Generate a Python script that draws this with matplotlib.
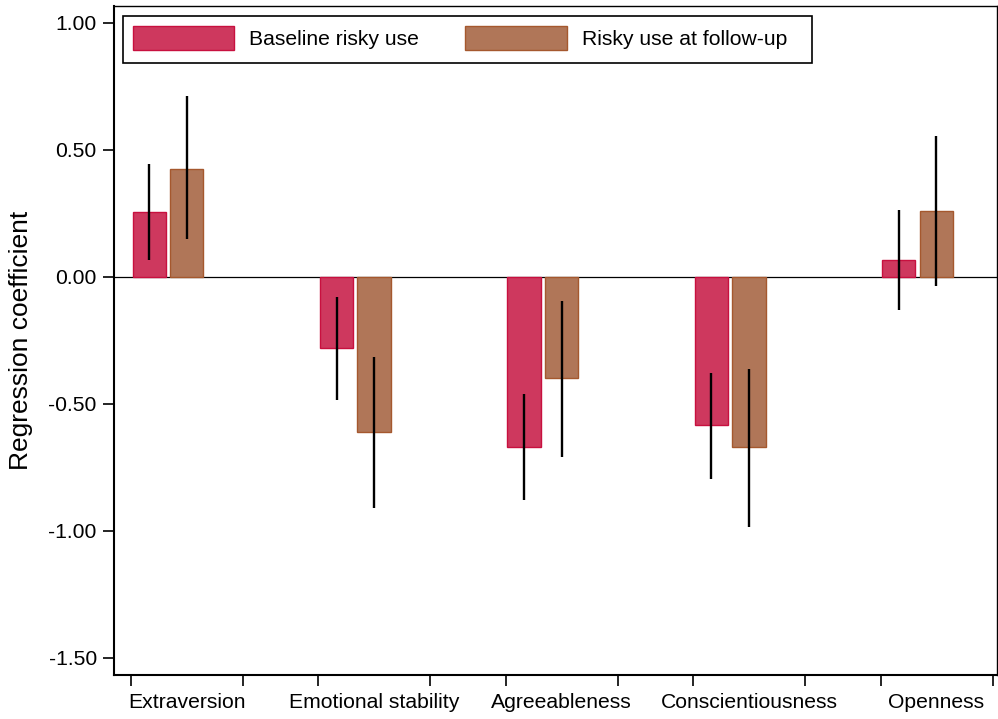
import numpy as np
import matplotlib
matplotlib.use("Agg")
import matplotlib.pyplot as plt
from matplotlib.patches import Rectangle

plt.rcParams["font.family"] = ["Liberation Sans", "DejaVu Sans"]
plt.rcParams["axes.unicode_minus"] = False

# data
traits = ["Extraversion", "Emotional stability", "Agreeableness",
          "Conscientiousness", "Openness"]
series = ["Baseline risky use", "Risky use at follow-up"]

base_coef = [0.253, -0.282, -0.669, -0.585, 0.066]
base_lo = [0.066, -0.485, -0.879, -0.795, -0.131]
base_hi = [0.443, -0.081, -0.463, -0.378, 0.263]

fu_coef = [0.426, -0.610, -0.400, -0.672, 0.260]
fu_lo = [0.147, -0.912, -0.709, -0.984, -0.035]
fu_hi = [0.712, -0.315, -0.094, -0.362, 0.555]

yticks = [-1.5, -1.0, -0.5, 0.0, 0.5, 1.0]

colors = {"base": ("#CE385E", "#C8103F"),
          "fu": ("#B07658", "#A5582E")}

fig = plt.figure(figsize=(9.98, 7.19), dpi=100)
ax = fig.add_axes([113.5 / 998, 44 / 719, (997 - 113.5) / 998, 669 / 719])

x = np.arange(len(traits))
width = 0.178
off = 0.100

ax.bar(x - off, base_coef, width, color=colors["base"][0],
       edgecolor=colors["base"][1], linewidth=1.0, label=series[0], zorder=2)
ax.bar(x + off, fu_coef, width, color=colors["fu"][0],
       edgecolor=colors["fu"][1], linewidth=1.0, label=series[1], zorder=2)

ax.vlines(x - off, base_lo, base_hi, color="black", linewidth=1.7, zorder=3)
ax.vlines(x + off, fu_lo, fu_hi, color="black", linewidth=1.7, zorder=3)

ax.axhline(0, color="black", linewidth=0.9, zorder=1)

ax.set_xlim(-0.291, 4.424)
ax.set_ylim(-1.568, 1.066)

# y axis
ax.set_yticks(yticks)
ax.set_yticklabels(["%.2f" % v for v in yticks])
ax.tick_params(axis="y", length=8, width=1.2, pad=4, labelsize=15.2)
ax.set_ylabel("Regression coefficient", fontsize=19)
ax.yaxis.set_label_coords(-0.0911, 0.5)

# x axis: ticks between categories, labels offset like the original
ax.set_xticks(np.concatenate([x - 0.197, x + 0.400]))
ax.set_xticklabels([])
ax.set_xticks(x + 0.1, minor=True)
ax.set_xticklabels(traits, minor=True)
ax.tick_params(axis="x", which="major", length=8, width=1.2)
ax.tick_params(axis="x", which="minor", length=0, pad=13, labelsize=15.2)

for side in ["left", "bottom"]:
    ax.spines[side].set_linewidth(1.5)
for side in ["top", "right"]:
    ax.spines[side].set_linewidth(1.0)

leg = ax.legend(loc="upper left", bbox_to_anchor=(0.0108, 0.985),
                borderaxespad=0, ncol=2, fontsize=15.2, frameon=False,
                handlelength=4.8, handleheight=1.4,
                handletextpad=0.72, columnspacing=2.2, borderpad=0.45)

# legend box, a bit wider than the entries like the original
ax.add_patch(Rectangle((0.01075, 0.9148), 0.7798, 0.0703,
                       transform=ax.transAxes, fill=False,
                       edgecolor="black", linewidth=1.2, zorder=5,
                       clip_on=False))

plt.savefig("out.png", dpi=100)
plt.close()
